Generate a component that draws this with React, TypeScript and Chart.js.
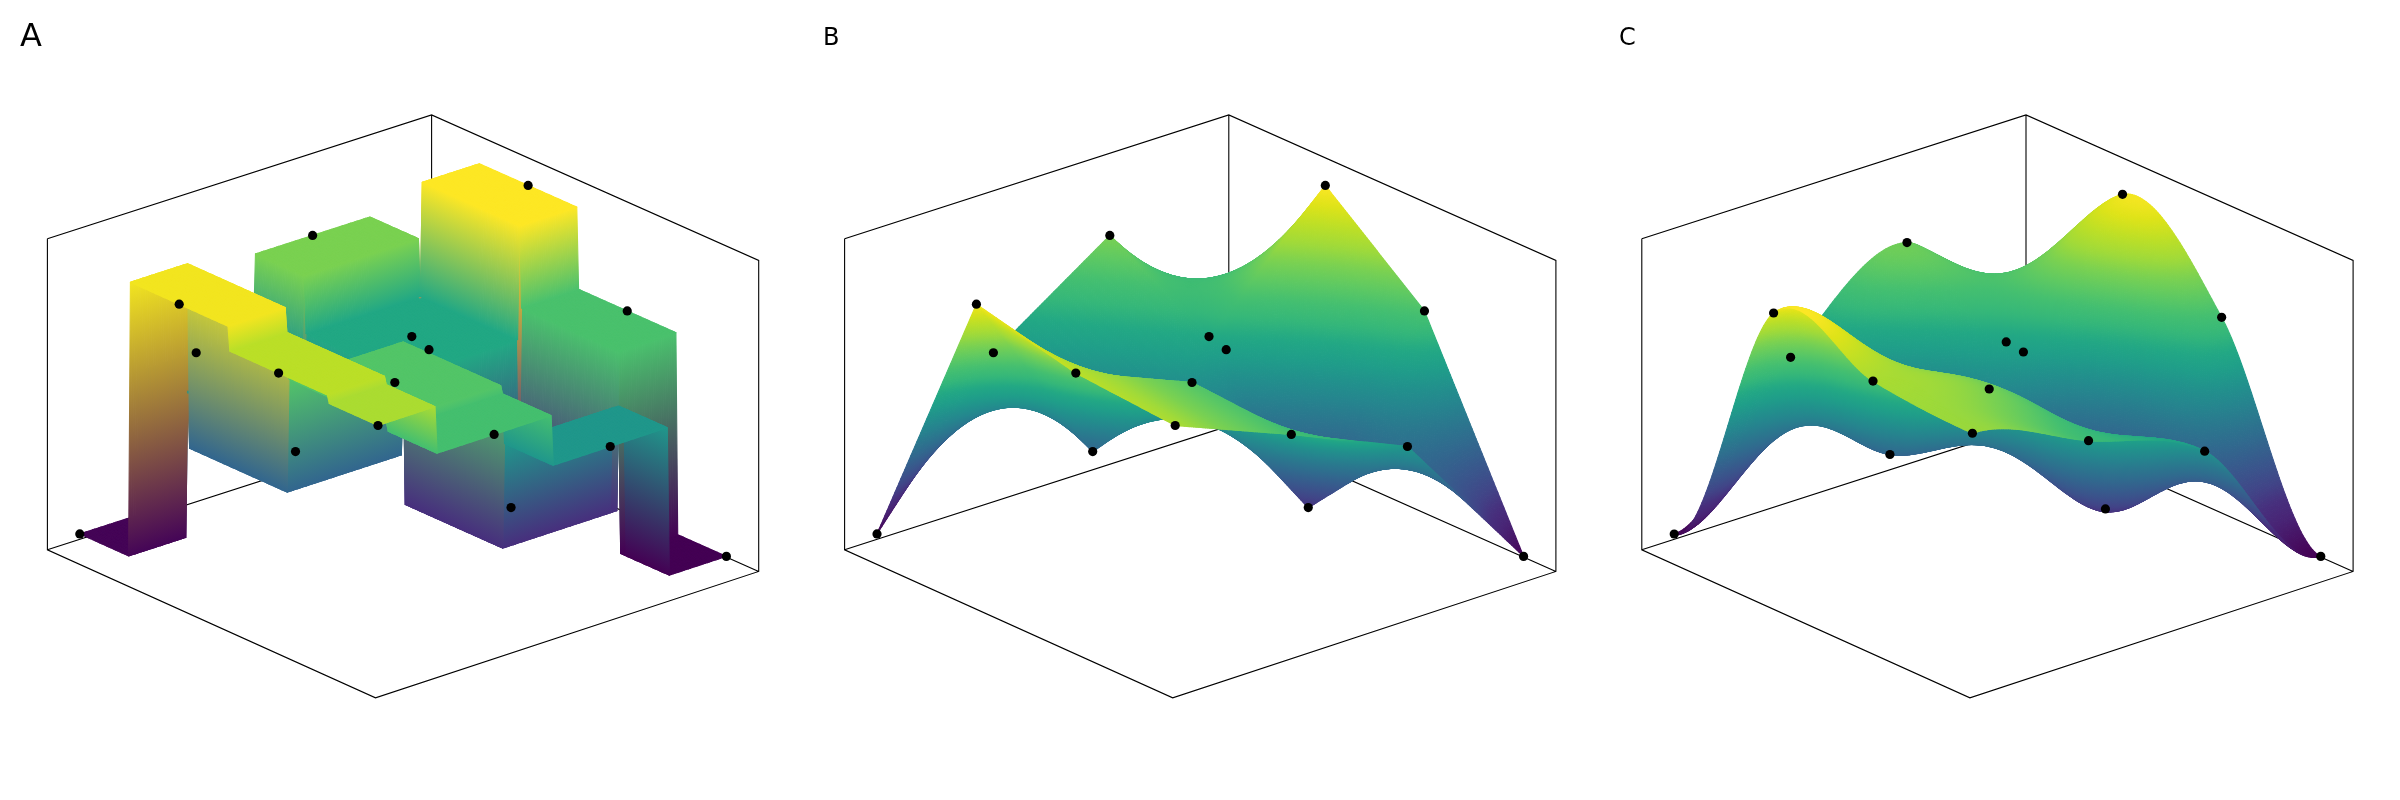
import React, { useEffect, useRef } from "react";
import Chart from "chart.js/auto";

const panelLabels = ["A", "B", "C"];
const panelFontSizes = [32, 24, 24];
const panelLefts = [20, 823, 1619];
const panelWidths = [800, 790, 781];
const panelShifts = [0, 797.2, 1594.4];
const titlePadTop = [18, 24, 24];
const methods = ["nearest", "bilinear", "bicubic"];
const meshSteps = [165, 150, 150];

// heights[i][j]: i along the front-left floor edge, j along the back-left floor edge
const row0 = [0.01, 0.518, 0.8, 0.263];
const row1 = [0.981, 0.326, 0.599, 1.0];
const row2 = [0.896, 0.728, 0.151, 0.712];
const row3 = [0.869, 0.702, 0.524, 0.0];
const heights = [row0, row1, row2, row3];

const viridisStops = ["#440154","#471365","#482475","#472f7d","#414487","#3b528b","#355f8d","#2f6c8e","#2a788e","#25858e","#21918c","#1f9e89","#22a884","#35b779","#44bf70","#5ec962","#7ad151","#a0da39","#bddf26","#dfe318","#fde725"];

const P_L = [47.4, 549.8];
const P_F = [375.5, 697.8];
const P_R = [758.7, 571.4];
const BACK_SKEW = [1, 2.5];
const BOX_H = 311;
const MARGIN = 0.0455;
const SPAN = 0.909;
const DEPTH = [0.703, -0.6, 0.256];

const rgb = viridisStops.map((h) => [1, 3, 5].map((k) => parseInt(h.slice(k, k + 2), 16)));
function viridis(t: number) {
  const x = Math.max(0, Math.min(1, t)) * (rgb.length - 1);
  const a = Math.min(rgb.length - 2, Math.floor(x));
  const f = x - a;
  const c = [0, 1, 2].map((k) => Math.round(rgb[a][k] + (rgb[a + 1][k] - rgb[a][k]) * f));
  return `rgb(${c[0]},${c[1]},${c[2]})`;
}

function cubicWeights(t: number) {
  return [
    0.5 * (-t + 2 * t * t - t * t * t),
    0.5 * (2 - 5 * t * t + 3 * t * t * t),
    0.5 * (t + 4 * t * t - 3 * t * t * t),
    0.5 * (-t * t + t * t * t),
  ];
}
const reflectIdx = (k: number) => (k < 0 ? -k : k > 3 ? 6 - k : k);
function sample(method: string, a: number, b: number) {
  if (method === "nearest") return heights[Math.round(a)][Math.round(b)];
  const i = Math.min(2, Math.floor(a));
  const j = Math.min(2, Math.floor(b));
  const s = a - i;
  const t = b - j;
  if (method === "bilinear") {
    return (1 - s) * (1 - t) * heights[i][j] + s * (1 - t) * heights[i + 1][j] + (1 - s) * t * heights[i][j + 1] + s * t * heights[i + 1][j + 1];
  }
  const ws = cubicWeights(s);
  const wt = cubicWeights(t);
  let v = 0;
  for (let p = 0; p < 4; p++) for (let q = 0; q < 4; q++) v += ws[p] * wt[q] * heights[reflectIdx(i + p - 1)][reflectIdx(j + q - 1)];
  return v;
}

function project(a: number, b: number, z01: number, shift: number, left: number) {
  const u = MARGIN + (SPAN * a) / 3;
  const v = MARGIN + (SPAN * b) / 3;
  const bx = P_L[0] + P_R[0] - P_F[0];
  const by = P_L[1] + P_R[1] - P_F[1];
  const skew = (1 - u) * v;
  const sx = P_L[0] + u * (P_F[0] - P_L[0]) + v * (bx - P_L[0]) + skew * BACK_SKEW[0] + shift;
  const sy = P_L[1] + u * (P_F[1] - P_L[1]) + v * (by - P_L[1]) + skew * BACK_SKEW[1] - BOX_H * z01;
  return { x: sx - left, y: 800 - sy };
}

function quadStyle(ctx: any, verts: any[], zs: number[]) {
  const zMax = Math.max(zs[0], zs[1], zs[2], zs[3]);
  const zMin = Math.min(zs[0], zs[1], zs[2], zs[3]);
  const mean = (zs[0] + zs[1] + zs[2] + zs[3]) / 4;
  if (zMax - zMin < 0.0015) return viridis(mean);
  let best = 0;
  let grad = [0, 0];
  for (let m = 0; m < 4; m++) {
    const p0 = verts[m], p1 = verts[(m + 1) % 4], p2 = verts[(m + 3) % 4];
    const ax = p1.x - p0.x, ay = p1.y - p0.y, bx = p2.x - p0.x, by = p2.y - p0.y;
    const det = ax * by - ay * bx;
    const dz1 = zs[(m + 1) % 4] - zs[m], dz2 = zs[(m + 3) % 4] - zs[m];
    if (Math.abs(det) > best && (dz1 !== 0 || dz2 !== 0)) {
      best = Math.abs(det);
      grad = [(dz1 * by - dz2 * ay) / det, (dz2 * ax - dz1 * bx) / det];
    }
  }
  const g2 = grad[0] * grad[0] + grad[1] * grad[1];
  if (best < 1e-6 || g2 < 1e-12) return viridis(mean);
  let hi = 0;
  for (let m = 1; m < 4; m++) if (zs[m] > zs[hi]) hi = m;
  const range = zMax - zMin;
  const x0 = verts[hi].x, y0 = verts[hi].y;
  const g = ctx.createLinearGradient(x0, y0, x0 - (grad[0] / g2) * range, y0 - (grad[1] / g2) * range);
  g.addColorStop(0, viridis(zMax));
  g.addColorStop(1, viridis(zMin));
  return g;
}

const surfacePlugin = {
  id: "surface",
  beforeDatasetDraw(chart: any, args: any) {
    const ds = chart.data.datasets[args.index];
    if (!ds.surface) return;
    const { n, zn } = ds.surface;
    const pts = args.meta.data;
    const ctx = chart.ctx;
    const idx = (i: number, j: number) => i * (n + 1) + j;
    const quads: { k: number[]; d: number }[] = [];
    for (let i = 0; i < n; i++) {
      for (let j = 0; j < n; j++) {
        const k = [idx(i, j), idx(i + 1, j), idx(i + 1, j + 1), idx(i, j + 1)];
        const zm = (zn[k[0]] + zn[k[1]] + zn[k[2]] + zn[k[3]]) / 4;
        const d = DEPTH[0] * ((i + 0.5) / n) + DEPTH[1] * ((j + 0.5) / n) + DEPTH[2] * zm;
        quads.push({ k, d });
      }
    }
    quads.sort((p, q) => p.d - q.d);
    ctx.save();
    ctx.lineWidth = 1.1;
    ctx.lineJoin = "round";
    for (const q of quads) {
      const [a, b, c, d] = q.k;
      const verts = [pts[a], pts[b], pts[c], pts[d]];
      const style = quadStyle(ctx, verts, [zn[a], zn[b], zn[c], zn[d]]);
      ctx.fillStyle = style;
      ctx.strokeStyle = style;
      ctx.beginPath();
      ctx.moveTo(pts[a].x, pts[a].y);
      ctx.lineTo(pts[b].x, pts[b].y);
      ctx.lineTo(pts[c].x, pts[c].y);
      ctx.lineTo(pts[d].x, pts[d].y);
      ctx.closePath();
      ctx.fill();
      ctx.stroke();
    }
    ctx.restore();
    return false;
  },
};

function buildConfig(p: number) {
  const method = methods[p];
  const n = meshSteps[p];
  const shift = panelShifts[p];
  const left = panelLefts[p];
  const raw: number[] = [];
  for (let i = 0; i <= n; i++) for (let j = 0; j <= n; j++) raw.push(sample(method, (3 * i) / n, (3 * j) / n));
  let zMin = Infinity;
  let zMax = -Infinity;
  for (const v of raw) { if (v < zMin) zMin = v; if (v > zMax) zMax = v; }
  const norm = (z: number) => (z - zMin) / (zMax - zMin);
  const zn = raw.map(norm);
  const surfaceData: { x: number; y: number }[] = [];
  let c = 0;
  for (let i = 0; i <= n; i++) for (let j = 0; j <= n; j++) surfaceData.push(project((3 * i) / n, (3 * j) / n, MARGIN + SPAN * zn[c++], shift, left));
  const dots: { x: number; y: number }[] = [];
  for (let i = 0; i < 4; i++) for (let j = 0; j < 4; j++) dots.push(project(i, j, MARGIN + SPAN * norm(heights[i][j]), shift, left));

  const corner = (a: number, b: number, top: number) => {
    const sa = (a - MARGIN) * 3 / SPAN;
    const sb = (b - MARGIN) * 3 / SPAN;
    return project(sa, sb, top, shift, left);
  };
  const frame: any[] = [
    corner(0, 0, 1), corner(0, 0, 0), corner(1, 0, 0), corner(1, 1, 0), corner(1, 1, 1), corner(0, 1, 1), corner(0, 0, 1),
    { x: null, y: null },
    corner(0, 0, 0), corner(0, 1, 0), corner(1, 1, 0),
    { x: null, y: null },
    corner(0, 1, 0), corner(0, 1, 1),
  ];
  const fs = panelFontSizes[p];
  const padTop = titlePadTop[p];
  const padBottom = 4;
  const titleH = padTop + fs * 1.2 + padBottom;
  return {
    type: "scatter" as const,
    data: {
      datasets: [
        { label: "control points", data: dots, backgroundColor: "#000", pointBorderWidth: 0, pointRadius: 4.6, showLine: false, clip: false },
        { label: "surface", data: surfaceData, pointRadius: 0, showLine: false, surface: { n, zn } },
        { label: "box", data: frame, pointRadius: 0, showLine: true, borderColor: "#000", borderWidth: 1.1, spanGaps: false, tension: 0 },
      ],
    },
    options: {
      responsive: false,
      animation: false as const,
      events: [] as any[],
      layout: { padding: 0, autoPadding: false },
      plugins: {
        legend: { display: false },
        tooltip: { enabled: false },
        title: {
          display: true,
          text: panelLabels[p],
          align: "start" as const,
          color: "#000",
          font: { family: "'DejaVu Sans'", size: fs, weight: "normal" as const },
          padding: { top: padTop, bottom: padBottom },
        },
      },
      scales: {
        x: { type: "linear" as const, display: false, min: 0, max: panelWidths[p] },
        y: { type: "linear" as const, display: false, min: 0, max: 800 - titleH },
      },
    },
    plugins: [surfacePlugin],
  };
}

function Panel({ p }: { p: number }) {
  const ref = useRef<HTMLCanvasElement>(null);
  useEffect(() => {
    const chart = new Chart(ref.current as HTMLCanvasElement, buildConfig(p) as any);
    return () => chart.destroy();
  }, [p]);
  return <canvas ref={ref} width={panelWidths[p]} height={800} style={{ position: "absolute", left: panelLefts[p], top: 0, width: panelWidths[p], height: 800 }} />;
}

export default function App() {
  return (
    <div style={{ position: "absolute", left: 0, top: 0, width: 2400, height: 800, background: "#fff", overflow: "hidden" }}>
      {panelLabels.map((_, p) => <Panel key={p} p={p} />)}
    </div>
  );
}
